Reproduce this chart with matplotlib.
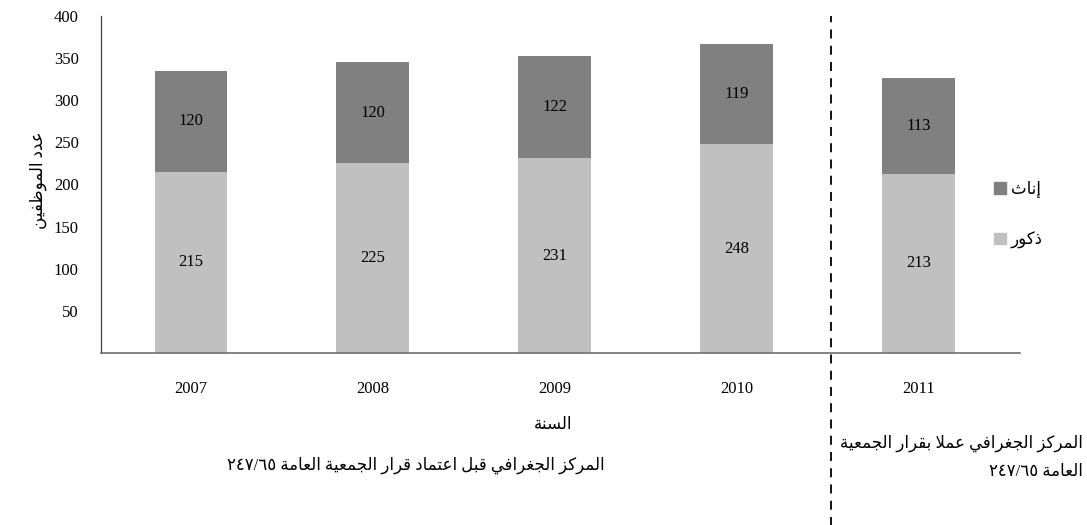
import matplotlib
matplotlib.use("Agg")
import matplotlib.pyplot as plt
from matplotlib.patches import Patch

# data
years = ["2007", "2008", "2009", "2010", "2011"]
males = [215, 225, 231, 248, 213]
females = [120, 120, 122, 119, 113]
yticks = [50, 100, 150, 200, 250, 300, 350, 400]

label_male = "ذكور"
label_female = "إناث"
ylabel = "عدد الموظفين"
xlabel = "السنة"
caption_left = "المركز الجغرافي قبل اعتماد قرار الجمعية العامة ٦٥/٢٤٧"
caption_right_1 = "المركز الجغرافي عملا بقرار الجمعية"
caption_right_2 = "العامة ٦٥/٢٤٧"

# no arabic shaping in matplotlib, so map letters to presentation forms
# (isolated form codepoint, joins to next letter)
LETTERS = {
    "ا": (0xFE8D, False), "أ": (0xFE83, False), "إ": (0xFE87, False),
    "ب": (0xFE8F, True), "ة": (0xFE93, False), "ت": (0xFE95, True),
    "ث": (0xFE99, True), "ج": (0xFE9D, True), "د": (0xFEA9, False),
    "ذ": (0xFEAB, False), "ر": (0xFEAD, False), "ز": (0xFEAF, False),
    "س": (0xFEB1, True), "ظ": (0xFEC5, True), "ع": (0xFEC9, True),
    "غ": (0xFECD, True), "ف": (0xFED1, True), "ق": (0xFED5, True),
    "ك": (0xFED9, True), "ل": (0xFEDD, True), "م": (0xFEE1, True),
    "ن": (0xFEE5, True), "ه": (0xFEE9, True), "و": (0xFEED, False),
    "ي": (0xFEF1, True),
}


def shape_word(w):
    units = []
    i = 0
    while i < len(w):
        if w[i] == "ل" and i + 1 < len(w) and w[i + 1] == "ا":
            units.append((0xFEFB, False))  # lam-alef
            i += 2
        else:
            units.append(LETTERS.get(w[i], w[i]))
            i += 1
    out = []
    for k, u in enumerate(units):
        if isinstance(u, str):
            out.append(u)
            continue
        base, dual = u
        prev = units[k - 1] if k > 0 else None
        nxt = units[k + 1] if k + 1 < len(units) else None
        jp = isinstance(prev, tuple) and prev[1]
        jn = dual and isinstance(nxt, tuple)
        if jp and jn:
            c = base + 3
        elif jp:
            c = base + 1
        elif jn:
            c = base + 2
        else:
            c = base
        out.append(chr(c))
    return "".join(out[::-1])


def ar(text):
    words = []
    for w in text.split(" ")[::-1]:
        if any(ch in LETTERS for ch in w):
            words.append(shape_word(w))
        else:
            words.append("/".join(w.split("/")[::-1]))
    return " ".join(words)


plt.rcParams["font.family"] = ["Liberation Serif", "DejaVu Sans"]
plt.rcParams["font.size"] = 12

W, H = 1087, 525
fig = plt.figure(figsize=(W / 100, H / 100), dpi=100)
ax = fig.add_axes([101 / W, (H - 353) / H, (1020 - 101) / W, (353 - 16) / H])

x = list(range(len(years)))
c_male = "#c0c0c0"
c_female = "#808080"
ax.bar(x, males, width=0.4, color=c_male, label=label_male)
ax.bar(x, females, width=0.4, bottom=males, color=c_female, label=label_female)

for i in x:
    ax.text(i, males[i] / 2, str(males[i]), ha="center", va="center", fontsize=12)
    ax.text(i, males[i] + females[i] / 2, str(females[i]), ha="center", va="center", fontsize=12)

ax.set_xlim(-0.495, 4.56)
ax.set_ylim(0, 400)
ax.set_yticks(yticks)
ax.set_xticks(x)
ax.set_xticklabels(years)
ax.tick_params(axis="both", length=0, labelsize=12)
ax.tick_params(axis="y", pad=16)
ax.tick_params(axis="x", pad=20)
for s in ["top", "right"]:
    ax.spines[s].set_visible(False)
ax.spines["left"].set_color("#404040")
ax.spines["left"].set_linewidth(0.9)
ax.spines["bottom"].set_color("#707070")
ax.spines["bottom"].set_linewidth(1.2)

# dashed divider between the two periods
ax.axvline(3.52, ymin=-0.52, ymax=1.0, clip_on=False, color="black",
           linestyle=(0, (5, 4)), linewidth=1.3)

fig.text(38 / W, 1 - 180 / H, ar(ylabel), rotation=90, ha="center", va="center", fontsize=12)
fig.text(553 / W, 1 - 425 / H, ar(xlabel), ha="center", va="center", fontsize=12)
fig.text(416 / W, 1 - 465 / H, ar(caption_left), ha="center", va="center", fontsize=12)
fig.text(1083 / W, 1 - 443 / H, ar(caption_right_1), ha="right", va="center", fontsize=12)
fig.text(1083 / W, 1 - 472 / H, ar(caption_right_2), ha="right", va="center", fontsize=12)

handles = [Patch(color=c_female, label=ar(label_female)),
           Patch(color=c_male, label=ar(label_male))]
fig.legend(handles=handles, loc="upper left", bbox_to_anchor=(994 / W, 1 - 181 / H),
           frameon=False, fontsize=12, handlelength=0.7, handleheight=0.7,
           handletextpad=0.3, labelspacing=2.0, borderpad=0, borderaxespad=0)

fig.savefig("out.png", dpi=100)
